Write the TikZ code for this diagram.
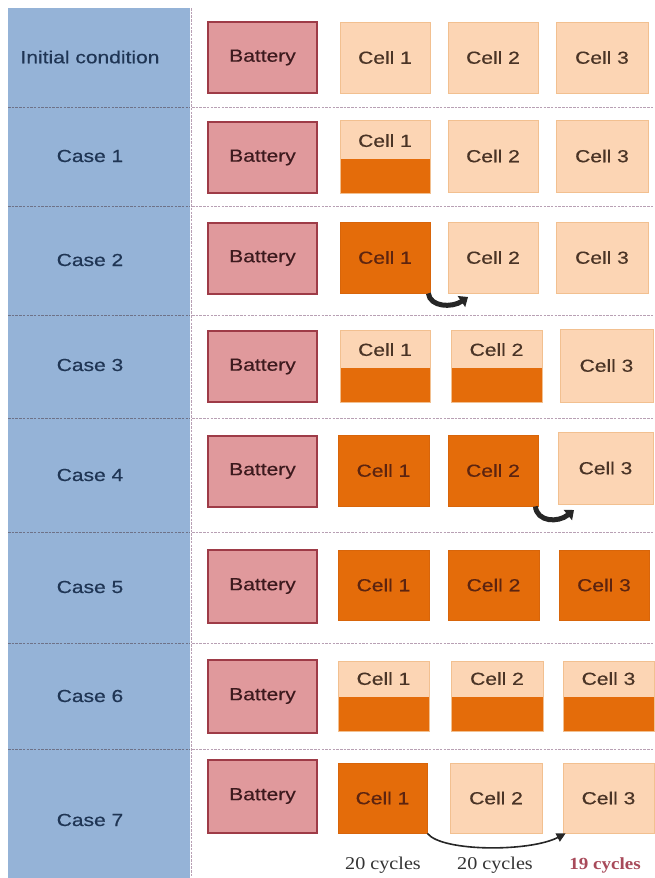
\documentclass[tikz,border=0pt]{standalone}
\usepackage{fontspec}
\newfontfamily\arialw[FakeStretch=1.2,FakeBold=0.4]{Liberation Sans}
\newfontfamily\timesw[FakeStretch=1.12]{Liberation Serif}
\usetikzlibrary{arrows.meta}
\definecolor{bluecol}{HTML}{95B3D7}
\definecolor{bluetxt}{HTML}{1F3554}
\definecolor{battfill}{HTML}{E0999C}
\definecolor{battdraw}{HTML}{9E3B47}
\definecolor{batttxt}{HTML}{3D1A1E}
\definecolor{peach}{HTML}{FCD5B4}
\definecolor{peachdraw}{HTML}{F2C090}
\definecolor{orng}{HTML}{E46C0A}
\definecolor{orngdraw}{HTML}{D8650A}
\definecolor{peachtxt}{HTML}{4A3426}
\definecolor{orngtxt}{HTML}{5C2410}
\definecolor{sepdark}{HTML}{6E7288}
\definecolor{seplight}{HTML}{B8A0B4}
\definecolor{cyctxt}{HTML}{333333}
\definecolor{cycred}{HTML}{A84A5A}
\tikzset{
  lbl/.style={font=\arialw\fontsize{17.5}{20}\selectfont, text=bluetxt, inner sep=0},
  batt/.style={draw=battdraw, line width=2pt, fill=battfill, minimum width=109, minimum height=71, inner sep=0,
     font=\arialw\fontsize{17.5}{20}\selectfont, text=batttxt},
  cellbase/.style={line width=0.8pt, inner sep=0, font=\arialw\fontsize{17.5}{20}\selectfont},
  pcell/.style={cellbase, draw=peachdraw, fill=peach, text=peachtxt},
  ocell/.style={cellbase, draw=orngdraw, fill=orng, text=orngtxt},
  hcell/.style={cellbase, draw=peachdraw, fill=peach,
     path picture={\fill[orng] (path picture bounding box.south west) rectangle ([yshift=34pt]path picture bounding box.south east);}},
  htxt/.style={font=\arialw\fontsize{17.5}{20}\selectfont, text=peachtxt, inner sep=0},
  sepd/.style={draw=sepdark, line width=1pt, dash pattern=on 2.5pt off 1.2pt},
  sepl/.style={draw=seplight, line width=1pt, dash pattern=on 2.5pt off 1.2pt},
  curl/.style={draw=black!85, line width=5pt, -{Triangle[length=8pt,width=13pt]}},
  cyc/.style={font=\timesw\fontsize{18}{20}\selectfont, text=cyctxt, inner sep=0},
}
\begin{document}
\begin{tikzpicture}[x=1pt,y=-1pt]
\useasboundingbox (0,0) rectangle (654,878);
\fill[bluecol] (8,8) rectangle (190,878);
\draw[sepl] (191,8) -- (191,878);
\foreach \yy in {107,206,315,418,532,643,749}{
  \draw[sepd] (8,\yy) -- (190,\yy);
  \draw[sepl] (192,\yy) -- (654,\yy);
}
% labels
\node[lbl] (l0) at (90,57) {Initial condition};
\node[lbl] (l1) at (90,156) {Case 1};
\node[lbl] (l2) at (90,260) {Case 2};
\node[lbl] (l3) at (90,365) {Case 3};
\node[lbl] (l4) at (90,475) {Case 4};
\node[lbl] (l5) at (90,587) {Case 5};
\node[lbl] (l6) at (90,696) {Case 6};
\node[lbl] (l7) at (90,820) {Case 7};
% batteries
\node[batt] (b0) at (262.5,57.5) {Battery};
\node[batt] (b1) at (262.5,157.5) {Battery};
\node[batt] (b2) at (262.5,258) {Battery};
\node[batt] (b3) at (262.5,366.5) {Battery};
\node[batt] (b4) at (262.5,471) {Battery};
\node[batt, minimum height=73] (b5) at (262.5,586) {Battery};
\node[batt, minimum height=73] (b6) at (262.5,696) {Battery};
\node[batt, minimum height=73] (b7) at (262.5,796) {Battery};
% row 0
\node[pcell, minimum width=90, minimum height=71] (c01) at (385,57.5) {Cell 1};
\node[pcell, minimum width=90, minimum height=71] (c02) at (493,57.5) {Cell 2};
\node[pcell, minimum width=92, minimum height=71] (c03) at (602,57.5) {Cell 3};
% row 1
\node[hcell, minimum width=90, minimum height=73] (c11) at (385,156.5) {};
\node[htxt] (c11t) at ([yshift=-21pt]c11.north) {Cell 1};
\node[pcell, minimum width=90, minimum height=72] (c12) at (493,156) {Cell 2};
\node[pcell, minimum width=92, minimum height=72] (c13) at (602,156) {Cell 3};
% row 2
\node[ocell, minimum width=90, minimum height=71] (c21) at (385,257.5) {Cell 1};
\node[pcell, minimum width=90, minimum height=71] (c22) at (493,257.5) {Cell 2};
\node[pcell, minimum width=92, minimum height=71] (c23) at (602,257.5) {Cell 3};
\coordinate (a2) at (468,297);
\draw[curl] ([xshift=-2pt]c21.south east) .. controls (430,307) and (452,308) .. (a2);
% row 3
\node[hcell, minimum width=90, minimum height=72] (c31) at (385,366) {};
\node[htxt] (c31t) at ([yshift=-20pt]c31.north) {Cell 1};
\node[hcell, minimum width=91, minimum height=72] (c32) at (496.5,366) {};
\node[htxt] (c32t) at ([yshift=-20pt]c32.north) {Cell 2};
\node[pcell, minimum width=93, minimum height=73] (c33) at (606.5,365.5) {Cell 3};
% row 4
\node[ocell, minimum width=91, minimum height=71] (c41) at (383.5,470.5) {Cell 1};
\node[ocell, minimum width=90, minimum height=71] (c42) at (493,470.5) {Cell 2};
\node[pcell, minimum width=95, minimum height=72] (c43) at (605.5,468) {Cell 3};
\coordinate (a4) at (574,510);
\draw[curl] ([xshift=-3pt]c42.south east) .. controls (537,522) and (558,523) .. (a4);
% row 5
\node[ocell, minimum width=91, minimum height=70] (c51) at (383.5,585) {Cell 1};
\node[ocell, minimum width=91, minimum height=70] (c52) at (493.5,585) {Cell 2};
\node[ocell, minimum width=90, minimum height=70] (c53) at (604,585) {Cell 3};
% row 6
\node[hcell, minimum width=91, minimum height=70] (c61) at (383.5,696) {};
\node[htxt] (c61t) at ([yshift=-18pt]c61.north) {Cell 1};
\node[hcell, minimum width=92, minimum height=70] (c62) at (497,696) {};
\node[htxt] (c62t) at ([yshift=-18pt]c62.north) {Cell 2};
\node[hcell, minimum width=91, minimum height=70] (c63) at (608.5,696) {};
\node[htxt] (c63t) at ([yshift=-18pt]c63.north) {Cell 3};
% row 7
\node[ocell, minimum width=89, minimum height=70] (c71) at (382.5,798) {Cell 1};
\node[pcell, minimum width=92, minimum height=70] (c72) at (496,798) {Cell 2};
\node[pcell, minimum width=91, minimum height=70] (c73) at (608.5,798) {Cell 3};
\draw[draw=black!85, line width=1.6pt, -{Triangle[length=9pt,width=9pt]}]
  (c71.south east) .. controls (442,852) and (530,852) .. ([xshift=3pt]c73.south west);
% cycles
\node[cyc] (y1) at (383,865) {20 cycles};
\node[cyc] (y2) at (495,865) {20 cycles};
\node[cyc, text=cycred, font=\timesw\bfseries\fontsize{17}{20}\selectfont] (y3) at (605,865) {19 cycles};
\end{tikzpicture}
\end{document}
